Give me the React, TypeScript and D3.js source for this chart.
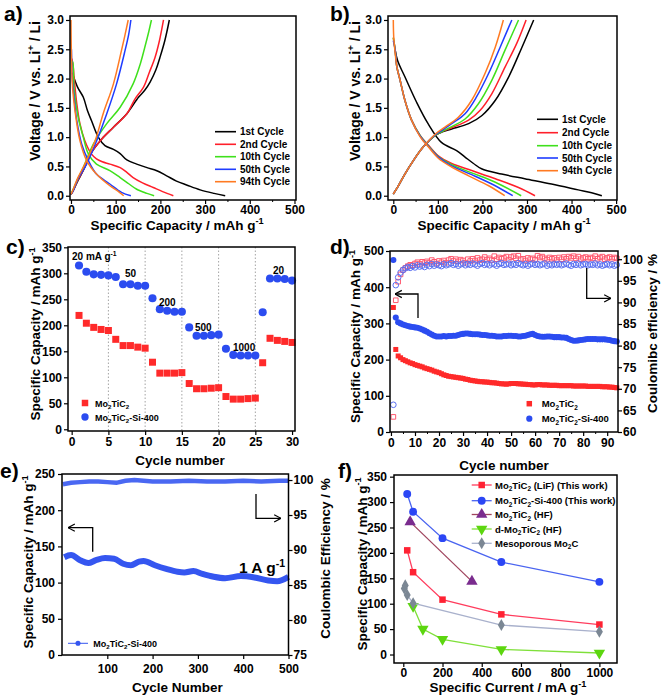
import { useEffect, useRef } from "react";
import * as d3 from "d3";

type Pt = [number, number];
type Seg = [string, string];

const FONT = "'Liberation Sans', Arial, sans-serif";

// ---------- a) Mo2TiC2 voltage profiles ----------
const cycleLabels = ["1st Cycle", "2nd Cycle", "10th Cycle", "50th Cycle", "94th Cycle"];
const cycleColors = ["#000000", "#ff1f2a", "#3fe01c", "#1f3cff", "#ff7a22"];

const aBlackDis: Pt[] = [[3, 2.1], [5, 2.05], [15, 1.85], [27.6, 1.68], [37, 1.45], [46, 1.28], [61, 1.0], [76, 0.855], [95, 0.79], [110, 0.72], [125, 0.61], [147, 0.54], [170, 0.48], [192, 0.427], [214, 0.34], [236, 0.25], [260, 0.18], [289, 0.1], [320, 0.04], [345, 0.0]];
const aBlackCh: Pt[] = [[0, 0.02], [5, 0.085], [15, 0.25], [27.5, 0.43], [46, 0.74], [69, 0.97], [95, 1.17], [125, 1.4], [151, 1.68], [165, 1.8], [177, 1.94], [190, 2.15], [199, 2.36], [210, 2.65], [220, 3.0]];
const aRedDis: Pt[] = [[2, 2.34], [5, 2.2], [7, 2.02], [13, 1.57], [20, 1.23], [31, 0.94], [46, 0.71], [57, 0.63], [70, 0.58], [87, 0.54], [110, 0.48], [125, 0.4], [139, 0.31], [160, 0.22], [184, 0.14], [205, 0.07], [229, 0.0]];
const aRedCh: Pt[] = [[0, 0.02], [5, 0.09], [15, 0.26], [27.5, 0.44], [46, 0.74], [69, 0.97], [95, 1.17], [125, 1.4], [143, 1.65], [162, 1.85], [175, 2.1], [188, 2.36], [198, 2.65], [207, 3.0]];
const aGreenDis: Pt[] = [[2, 2.3], [4, 2.28], [7, 1.82], [16, 1.34], [27.5, 1.0], [39, 0.71], [57, 0.54], [87, 0.43], [110, 0.31], [130, 0.2], [147, 0.11], [170, 0.04], [186, 0.0]];
const aGreenCh: Pt[] = [[0, 0.02], [5, 0.11], [15, 0.28], [27.5, 0.48], [50, 0.88], [80, 1.23], [110, 1.51], [139, 1.91], [155, 2.25], [165, 2.53], [174, 2.8], [180, 3.0]];
const aBlueDis: Pt[] = [[1, 2.5], [3, 2.0], [8, 1.6], [13, 1.28], [24, 0.88], [39, 0.6], [57, 0.37], [87, 0.2], [113, 0.057], [134, 0.0]];
const aBlueCh: Pt[] = [[0, 0.02], [5, 0.085], [15, 0.28], [35, 0.54], [57.5, 0.94], [80, 1.4], [102, 1.91], [121, 2.48], [129, 2.75], [134, 3.0]];
const aOrangeDis: Pt[] = [[0, 3.0], [0.5, 2.6], [2, 2.1], [4, 1.8], [9, 1.45], [20, 0.94], [35, 0.6], [57, 0.37], [87, 0.17], [105, 0.08], [118, 0.0]];
const aOrangeCh: Pt[] = [[0, 0.02], [5, 0.11], [15, 0.3], [31, 0.54], [54, 0.94], [72, 1.4], [95, 1.91], [113, 2.48], [121, 2.75], [128, 3.0]];

// ---------- b) Mo2TiC2-Si-400 voltage profiles ----------
const bBlackDis: Pt[] = [[4, 2.49], [10, 2.3], [26, 2.03], [52, 1.6], [78, 1.23], [108, 0.91], [142, 0.77], [161, 0.66], [180, 0.55], [198, 0.46], [243, 0.37], [295, 0.29], [355, 0.2], [415, 0.1], [445, 0.05], [468, 0.0]];
const bRedDis: Pt[] = [[0, 2.7], [4, 2.5], [8, 2.2], [15, 1.98], [26, 1.63], [41, 1.29], [60, 1.03], [79, 0.86], [101, 0.68], [131, 0.55], [176, 0.43], [229, 0.29], [281, 0.14], [318, 0.0]];
const bGreenDis: Pt[] = [[0, 2.7], [4, 2.5], [8, 2.2], [15, 1.98], [26, 1.63], [41, 1.29], [60, 1.03], [79, 0.85], [101, 0.67], [131, 0.53], [176, 0.39], [229, 0.23], [287, 0.0]];
const bBlueDis: Pt[] = [[0, 2.65], [4, 2.5], [8, 2.2], [15, 1.98], [26, 1.63], [41, 1.29], [60, 1.02], [79, 0.84], [101, 0.66], [131, 0.51], [176, 0.36], [221, 0.2], [268, 0.0]];
const bOrangeDis: Pt[] = [[0, 3.0], [1, 2.7], [4, 2.45], [8, 2.2], [15, 1.98], [26, 1.63], [41, 1.29], [60, 1.01], [79, 0.83], [101, 0.64], [131, 0.49], [169, 0.34], [214, 0.17], [250, 0.0]];
const bBlackCh: Pt[] = [[0, 0.03], [10, 0.15], [26, 0.37], [45, 0.6], [67, 0.83], [94, 1.03], [110, 1.09], [131, 1.14], [169, 1.23], [199, 1.37], [229, 1.63], [259, 2.03], [289, 2.54], [315, 3.0]];
const bRedCh: Pt[] = [[0, 0.03], [10, 0.15], [26, 0.37], [45, 0.6], [67, 0.83], [94, 1.03], [110, 1.1], [131, 1.16], [169, 1.29], [195, 1.46], [221, 1.74], [251, 2.2], [277, 2.6], [298, 3.0]];
const bGreenCh: Pt[] = [[0, 0.03], [10, 0.15], [26, 0.37], [45, 0.6], [67, 0.83], [94, 1.03], [110, 1.1], [131, 1.18], [161, 1.31], [191, 1.57], [221, 1.97], [251, 2.49], [281, 3.0]];
const bBlueCh: Pt[] = [[0, 0.03], [10, 0.15], [26, 0.37], [45, 0.6], [67, 0.83], [94, 1.04], [110, 1.12], [131, 1.23], [161, 1.4], [187, 1.69], [214, 2.09], [240, 2.54], [266, 3.0]];
const bOrangeCh: Pt[] = [[0, 0.03], [10, 0.15], [26, 0.37], [45, 0.6], [67, 0.83], [94, 1.05], [116, 1.17], [146, 1.34], [176, 1.63], [206, 2.09], [229, 2.54], [247, 3.0]];

// ---------- c) rate capability ----------
const cCycles = d3.range(1, 31);
const cMo2TiC2 = [219, 204, 196, 192, 190, 173, 161, 161, 158, 156, 129, 108, 108, 108, 109, 88, 78, 78, 79, 80, 63, 58, 58, 59, 60, 128, 175, 171, 169, 167];
const cSi400 = [315, 303, 298, 297, 296, 293, 279, 279, 276, 276, 252, 231, 228, 226, 226, 196, 180, 180, 181, 182, 155, 143, 142, 142, 142, 225, 290, 290, 289, 286];
const cRateLabels = ["50", "200", "500", "1000", "20"];

// ---------- d) cycling at low rate ----------
const dMo2TiC2Cap = [
  344, 228, 210, 205, 200, 197, 194, 191, 189, 186, 184, 182, 180, 177, 175, 173, 171, 168, 166, 164,
  161, 158, 156, 154, 153, 152, 151, 150, 149, 148, 146, 145, 143, 142, 141, 140, 139, 139, 138, 138,
  137, 136, 136, 135, 134, 133, 133, 132, 133, 134, 134, 134, 133, 133, 132, 132, 131, 131, 130, 130,
  131, 131, 130, 130, 130, 129, 129, 129, 129, 128, 128, 128, 128, 128, 128, 127, 127, 127, 127, 127,
  127, 126, 126, 126, 126, 126, 126, 125, 125, 125, 124, 124, 123, 122,
];
const dSi400Cap = [
  475, 316, 303, 300, 297, 295, 293, 291, 290, 289, 288, 286, 283, 280, 277, 273, 269, 266, 264, 264,
  264, 265, 264, 265, 265, 266, 266, 268, 270, 271, 272, 272, 271, 270, 270, 270, 269, 268, 268, 267,
  266, 266, 265, 264, 264, 264, 265, 265, 266, 266, 265, 265, 264, 264, 265, 266, 268, 270, 271, 268,
  265, 264, 263, 263, 264, 264, 263, 262, 262, 262, 261, 261, 260, 257, 254, 252, 252, 253, 254, 255,
  256, 257, 257, 257, 257, 256, 256, 256, 256, 255, 254, 252, 251, 250,
];
const dMo2TiC2CE = [
  63.5, 90.5, 94.8, 96.5, 97.5, 98.0, 98.4, 98.7, 98.6, 99.0, 99.3, 98.9, 99.4, 99.1, 99.5, 99.2, 99.8, 99.4, 99.0, 99.6,
  99.3, 99.7, 99.2, 99.8, 100.1, 99.6, 100.0, 99.5, 99.9, 99.7, 99.2, 100.0, 99.6, 100.1, 99.7, 100.3, 99.8, 100.0, 100.5, 99.9,
  100.2, 99.8, 100.7, 100.0, 100.4, 100.1, 100.3, 100.6, 99.9, 100.5, 100.7, 100.2, 100.8, 100.0, 100.1, 99.7, 100.3, 100.0, 100.2, 99.9,
  100.8, 100.4, 100.6, 100.2, 99.9, 100.4, 100.1, 100.3, 99.8, 100.4, 100.0, 100.5, 100.1, 100.6, 100.3, 100.7, 100.2, 100.6, 100.0, 100.3,
  100.5, 100.1, 100.4, 100.2, 100.7, 100.1, 100.4, 100.6, 100.0, 100.3, 100.5, 100.1, 100.4, 100.2,
];
const dSi400CE = [
  66.3, 94.0, 95.8, 96.9, 97.5, 97.9, 98.2, 98.0, 98.4, 98.1, 98.6, 98.3, 98.5, 98.2, 98.7, 98.4, 98.9, 98.5, 98.8, 98.6,
  98.4, 98.9, 98.6, 98.8, 99.1, 98.7, 98.9, 98.5, 98.8, 99.0, 98.6, 98.9, 98.7, 99.0, 98.8, 98.5, 98.9, 99.1, 98.7, 98.9,
  98.6, 99.0, 98.8, 98.5, 98.9, 99.1, 98.7, 98.8, 99.0, 98.6, 98.9, 98.7, 99.1, 98.8, 98.6, 98.9, 98.5, 98.8, 99.0, 98.7,
  98.9, 98.6, 98.8, 99.0, 98.5, 98.8, 98.6, 98.9, 98.7, 98.9, 98.6, 98.8, 99.0, 98.7, 98.5, 98.9, 98.7, 99.0, 98.6, 98.8,
  98.9, 98.6, 98.8, 98.7, 99.0, 98.6, 98.8, 98.5, 98.7, 98.9, 98.6, 98.8, 98.5, 98.7,
];

// ---------- e) long cycling at 1 A/g ----------
const eCapCycles = [5, 20, 40, 58, 75, 95, 115, 135, 152, 170, 180, 205, 230, 255, 270, 290, 310, 335, 360, 395, 425, 455, 475, 500];
const eCap = [135, 138, 131, 127, 131, 134, 133, 126, 124, 129, 130, 124, 119, 115, 114, 116, 112, 108, 106, 109, 107, 103, 102, 108];
const eCeCycles = [2, 20, 40, 60, 80, 100, 120, 140, 160, 180, 200, 240, 280, 320, 360, 400, 440, 480, 500];
const eCE = [99.4, 99.6, 99.7, 99.8, 99.8, 99.7, 99.6, 99.9, 100.0, 99.9, 99.8, 99.8, 99.9, 99.8, 99.8, 99.9, 99.8, 99.9, 99.9];

// ---------- f) comparison ----------
const fLiFCurrent = [20, 50, 200, 500, 1000];
const fLiFCap = [205, 162, 108, 79, 59];
const fSiCurrent = [20, 50, 200, 500, 1000];
const fSiCap = [316, 281, 229, 182, 143];
const fHFCurrent = [35, 350];
const fHFCap = [261, 144];
const fDCurrent = [50, 100, 200, 500, 1000];
const fDCap = [95, 50, 30, 10, 3];
const fMesoCurrent = [5, 10, 20, 50, 500, 1000];
const fMesoCap = [130, 136, 117, 101, 58, 45];

const MO: Seg[] = [["Mo", ""], ["2", "sub"], ["TiC", ""], ["2", "sub"]];
const CAP_TITLE: Seg[] = [["Specific Capacity / mAh g", ""], ["-1", "sup"]];

function rich(parent: any, x: number, y: number, segs: Seg[], size: number, opt: any = {}) {
  const t = parent
    .append("text")
    .attr("x", x)
    .attr("y", y)
    .attr("font-family", FONT)
    .attr("font-size", size)
    .attr("font-weight", opt.weight ?? "bold")
    .attr("text-anchor", opt.anchor ?? "start")
    .attr("fill", "#000");
  if (opt.rotate) t.attr("transform", `rotate(-90 ${x} ${y})`);
  let cur = 0;
  segs.forEach(([s, k]) => {
    const target = k === "sub" ? size * 0.28 : k === "sup" ? -size * 0.4 : 0;
    const ts = t.append("tspan").text(s).attr("dy", target - cur);
    if (k) ts.attr("font-size", size * 0.68);
    cur = target;
  });
  return t;
}

function frame(g: any, l: number, r: number, t: number, b: number) {
  g.append("rect")
    .attr("x", l)
    .attr("y", t)
    .attr("width", r - l)
    .attr("height", b - t)
    .attr("fill", "none")
    .attr("stroke", "#000")
    .attr("stroke-width", 1.5);
}

function axis(g: any, gen: any, transform: string) {
  const a = g.append("g").attr("transform", transform).call(gen);
  a.select(".domain").remove();
  a.selectAll("line").attr("stroke", "#000").attr("stroke-width", 1.2);
  a.selectAll("text")
    .attr("font-family", FONT)
    .attr("font-size", 12)
    .attr("font-weight", "bold")
    .attr("fill", "#000");
  return a;
}

function minor(g: any, gen: any, transform: string) {
  const a = g.append("g").attr("transform", transform).call(gen.tickFormat(() => ""));
  a.select(".domain").remove();
  a.selectAll("line").attr("stroke", "#000").attr("stroke-width", 1);
}

function marker(g: any, kind: string, x: number, y: number, s: number, fill: string, stroke?: string) {
  const sym =
    kind === "square" ? d3.symbolSquare : kind === "circle" ? d3.symbolCircle : kind === "diamond" ? d3.symbolDiamond : d3.symbolTriangle;
  const p = g
    .append("path")
    .attr("d", d3.symbol(sym, s * s)())
    .attr("transform", `translate(${x},${y})${kind === "down" ? " rotate(180)" : ""}`)
    .attr("fill", fill);
  if (stroke) p.attr("stroke", stroke).attr("stroke-width", 1);
  return p;
}

function voltagePanel(svg: any, l: number, r: number, xDom: [number, number], dis: Pt[][], ch: Pt[][], legX: number, legY: number[], titleX: number, ylabX: number) {
  const g = svg.append("g");
  const x = d3.scaleLinear().domain(xDom).range([l, r]);
  const y = d3.scaleLinear().domain([-0.073, 3.068]).range([200, 16]);
  const line = d3
    .line<Pt>()
    .x((d) => x(d[0]))
    .y((d) => y(d[1]))
    .curve(d3.curveCatmullRom.alpha(0.5));
  [0, 1, 2, 3, 4].forEach((i) => {
    [dis[i], ch[i]].forEach((s) => {
      g.append("path").attr("d", line(s)).attr("fill", "none").attr("stroke", cycleColors[i]).attr("stroke-width", 1.5);
    });
  });
  frame(g, l, r, 16, 200);
  axis(g, d3.axisBottom(x).tickValues([0, 100, 200, 300, 400, 500]).tickSize(4).tickPadding(1), "translate(0,200)");
  minor(g, d3.axisBottom(x).tickValues([50, 150, 250, 350, 450]).tickSize(2), "translate(0,200)");
  axis(g, d3.axisLeft(y).tickValues([0, 0.5, 1, 1.5, 2, 2.5, 3]).tickFormat(d3.format(".1f")).tickSize(4).tickPadding(2), `translate(${l},0)`);
  cycleLabels.forEach((lab, i) => {
    g.append("line").attr("x1", legX).attr("x2", legX + 21).attr("y1", legY[i]).attr("y2", legY[i]).attr("stroke", cycleColors[i]).attr("stroke-width", 1.6);
    rich(g, legX + 25, legY[i] + 3.6, [[lab, ""]], 10);
  });
  rich(g, titleX, 229.5, CAP_TITLE, 13.5, { anchor: "middle" });
  rich(g, ylabX, 91, [["Voltage / V vs. Li", ""], ["+", "sup"], [" / Li", ""]], 14, { anchor: "middle", rotate: true });
}

const App = () => {
  const svgRef = useRef<SVGSVGElement>(null);

  useEffect(() => {
    if (!svgRef.current) return;
    const svg = d3.select(svgRef.current);
    svg.selectAll("*").remove();

    const defs = svg.append("defs");
    defs
      .append("marker")
      .attr("id", "arr")
      .attr("viewBox", "0 0 10 10")
      .attr("refX", 9.5)
      .attr("refY", 5)
      .attr("markerWidth", 7)
      .attr("markerHeight", 7)
      .attr("orient", "auto")
      .append("path")
      .attr("d", "M2,1 L9.5,5 L2,9")
      .attr("fill", "none")
      .attr("stroke", "#000")
      .attr("stroke-width", 1.3);

    const arrow = (g: any, d: string) =>
      g.append("path").attr("d", d).attr("fill", "none").attr("stroke", "#000").attr("stroke-width", 1.3).attr("marker-end", "url(#arr)");

    // panel letters
    [["a)", 4, 21], ["b)", 330, 21], ["c)", 6, 254], ["d)", 330, 254], ["e)", 0, 478], ["f)", 338, 478]].forEach(([t, x, y]: any) =>
      rich(svg, x, y, [[t, ""]], 21)
    );

    // ---- a & b ----
    voltagePanel(svg, 70, 296, [-2.2, 503.4], [aBlackDis, aRedDis, aGreenDis, aBlueDis, aOrangeDis], [aBlackCh, aRedCh, aGreenCh, aBlueCh, aOrangeCh], 215, [131.7, 144.3, 156.7, 169.3, 181.7], 177, 40);
    voltagePanel(svg, 388, 617, [-11.9, 502], [bBlackDis, bRedDis, bGreenDis, bBlueDis, bOrangeDis], [bBlackCh, bRedCh, bGreenCh, bBlueCh, bOrangeCh], 537, [119.3, 132.7, 145.7, 158, 170.7], 504, 360);

    // ---- c ----
    {
      const g = svg.append("g");
      const x = d3.scaleLinear().domain([-0.5, 30.4]).range([68, 295]);
      const y = d3.scaleLinear().domain([-3.3, 350.6]).range([431, 247]);
      [5, 10, 15, 20, 25].forEach((v) =>
        g.append("line").attr("x1", x(v)).attr("x2", x(v)).attr("y1", 247).attr("y2", 431).attr("stroke", "#9a9a9a").attr("stroke-width", 0.9).attr("stroke-dasharray", "1.5,2")
      );
      cCycles.forEach((c, i) => {
        marker(g, "square", x(c), y(cMo2TiC2[i]), 7, "#ff2a2a");
        marker(g, "circle", x(c), y(cSi400[i]), 7.2, "#2b4cf0");
      });
      frame(g, 68, 295, 247, 431);
      axis(g, d3.axisBottom(x).tickValues([0, 5, 10, 15, 20, 25, 30]).tickSize(4).tickPadding(2), "translate(0,431)");
      axis(g, d3.axisLeft(y).tickValues(d3.range(0, 351, 50)).tickSize(4).tickPadding(2), "translate(68,0)");
      rich(g, 72, 260, [["20 mA g", ""], ["-1", "sup"]], 10);
      [[125, 277], [159, 306], [195, 331], [233, 351], [273, 274]].forEach(([px, py], i) => rich(g, px, py, [[cRateLabels[i], ""]], 10));
      marker(g, "square", 85, 403, 6.5, "#ff2a2a");
      rich(g, 95, 406.5, MO, 9);
      marker(g, "circle", 85, 417, 6.5, "#2b4cf0");
      rich(g, 95, 420.5, [...MO, ["-Si-400", ""]], 9);
      rich(g, 180, 465, [["Cycle number", ""]], 13.5, { anchor: "middle" });
      rich(g, 40, 334, CAP_TITLE, 13.5, { anchor: "middle", rotate: true });
    }

    // ---- d ----
    {
      const g = svg.append("g");
      const x = d3.scaleLinear().domain([-0.4, 94.5]).range([390, 618]);
      const y = d3.scaleLinear().domain([0, 500]).range([432, 251]);
      const yr = d3.scaleLinear().domain([60, 101.9]).range([432, 251]);
      dMo2TiC2CE.forEach((v, i) => marker(g, "square", x(i + 1), yr(v), 4.6, "none", "#ff5a70"));
      dSi400CE.forEach((v, i) => marker(g, "circle", x(i + 1), yr(v), 5, "none", "#5a70f2"));
      dMo2TiC2Cap.forEach((v, i) => marker(g, "square", x(i + 1), y(v), 5, "#ff2a2a"));
      dSi400Cap.forEach((v, i) => marker(g, "circle", x(i + 1), y(v), 5.4, "#2b4cf0"));
      frame(g, 390, 618, 251, 432);
      axis(g, d3.axisBottom(x).tickValues(d3.range(0, 91, 10)).tickSize(4).tickPadding(2), "translate(0,432)");
      minor(g, d3.axisBottom(x).tickValues(d3.range(5, 95, 10)).tickSize(2), "translate(0,432)");
      axis(g, d3.axisLeft(y).tickValues(d3.range(0, 501, 100)).tickSize(4).tickPadding(2), "translate(390,0)");
      axis(g, d3.axisRight(yr).tickValues(d3.range(60, 101, 5)).tickSize(4).tickPadding(1), "translate(618,0)");
      arrow(g, "M418,318 V294 H395");
      arrow(g, "M586.7,268 V298.3 H611");
      marker(g, "square", 529.3, 403.7, 5.5, "#ff2a2a");
      rich(g, 541.7, 407.2, MO, 9.5);
      marker(g, "circle", 529.3, 418.7, 5.5, "#2b4cf0");
      rich(g, 541.7, 422.2, [...MO, ["-Si-400", ""]], 9.5);
      rich(g, 504, 470, [["Cycle number", ""]], 13.5, { anchor: "middle" });
      rich(g, 360, 336.5, CAP_TITLE, 13.5, { anchor: "middle", rotate: true });
      rich(g, 656.7, 333.5, [["Coulomibc efficiency / %", ""]], 13.5, { anchor: "middle", rotate: true });
    }

    // ---- e ----
    {
      const g = svg.append("g");
      const x = d3.scaleLinear().domain([0, 500]).range([62, 288.5]);
      const y = d3.scaleLinear().domain([0, 250]).range([655, 474]);
      const yr = d3.scaleLinear().domain([75, 100.86]).range([655, 474]);
      const capLine = d3
        .line<number>()
        .x((_, i) => x(eCapCycles[i]))
        .y((d) => y(d))
        .curve(d3.curveMonotoneX);
      const ceLine = d3
        .line<number>()
        .x((_, i) => x(eCeCycles[i]))
        .y((d) => yr(d));
      g.append("path").attr("d", ceLine(eCE)).attr("fill", "none").attr("stroke", "#4a68f2").attr("stroke-width", 4.5);
      g.append("path").attr("d", capLine(eCap)).attr("fill", "none").attr("stroke", "#3556f0").attr("stroke-width", 6);
      frame(g, 62, 288.5, 474, 655);
      axis(g, d3.axisBottom(x).tickValues([100, 200, 300, 400, 500]).tickSize(4).tickPadding(5), "translate(0,655)");
      axis(g, d3.axisLeft(y).tickValues(d3.range(0, 251, 50)).tickSize(4).tickPadding(3), "translate(62,0)");
      axis(g, d3.axisRight(yr).tickValues(d3.range(75, 101, 5)).tickSize(4).tickPadding(1), "translate(288.5,0)");
      arrow(g, "M92.7,551.7 V527.7 H68");
      arrow(g, "M256,494 V518.3 H281");
      rich(g, 239, 573, [["1 A g", ""], ["-1", "sup"]], 15.5);
      g.append("line").attr("x1", 68).attr("x2", 88).attr("y1", 643.3).attr("y2", 643.3).attr("stroke", "#3556f0").attr("stroke-width", 1);
      marker(g, "circle", 78, 643.3, 4.5, "#3556f0");
      rich(g, 93.3, 646.5, [...MO, ["-Si-400", ""]], 9);
      rich(g, 177.5, 692, [["Cycle Number", ""]], 13.5, { anchor: "middle" });
      rich(g, 33, 562, CAP_TITLE, 13.5, { anchor: "middle", rotate: true });
      rich(g, 330, 558.5, [["Coulombic Efficiency / %", ""]], 13.5, { anchor: "middle", rotate: true });
    }

    // ---- f ----
    {
      const g = svg.append("g");
      const x = d3.scaleLinear().domain([-47.4, 1089.8]).range([394, 617]);
      const y = d3.scaleLinear().domain([-16.7, 353.3]).range([663, 475]);
      const series = [
        { xs: fLiFCurrent, ys: fLiFCap, line: "#ff3d5e", fill: "#ff2233", kind: "square", size: 6.5, label: [...MO, [" (LiF) (This work)", ""]] as Seg[] },
        { xs: fSiCurrent, ys: fSiCap, line: "#4a64f0", fill: "#2b46f5", kind: "circle", size: 7, label: [...MO, ["-Si-400 (This work)", ""]] as Seg[] },
        { xs: fHFCurrent, ys: fHFCap, line: "#a0455e", fill: "#7a2c8e", kind: "triangle", size: 7.5, label: [...MO, [" (HF)", ""]] as Seg[] },
        { xs: fDCurrent, ys: fDCap, line: "#7fe03a", fill: "#5cd60f", kind: "down", size: 7.5, label: [["d-", ""], ...MO, [" (HF)", ""]] as Seg[] },
        { xs: fMesoCurrent, ys: fMesoCap, line: "#a9b1cc", fill: "#7b8794", kind: "diamond", size: 6.5, label: [["Mesoporous Mo", ""], ["2", "sub"], ["C", ""]] as Seg[] },
      ];
      const legY = [485, 500.7, 514.5, 529, 543.3];
      series.forEach((s, si) => {
        const line = d3
          .line<number>()
          .x((_, i) => x(s.xs[i]))
          .y((d) => y(d));
        g.append("path").attr("d", line(s.ys)).attr("fill", "none").attr("stroke", s.line).attr("stroke-width", 1.3);
        s.ys.forEach((v, i) => marker(g, s.kind, x(s.xs[i]), y(v), s.size, s.fill));
        g.append("line").attr("x1", 471.7).attr("x2", 491.7).attr("y1", legY[si]).attr("y2", legY[si]).attr("stroke", s.line).attr("stroke-width", 1.3);
        marker(g, s.kind, 481.7, legY[si], s.size, s.fill);
        rich(g, 495, legY[si] + 3.5, s.label, 9.5);
      });
      frame(g, 394, 617, 475, 663);
      axis(g, d3.axisBottom(x).tickValues(d3.range(0, 1001, 200)).tickFormat(d3.format("d")).tickSize(4).tickPadding(1), "translate(0,663)");
      axis(g, d3.axisLeft(y).tickValues(d3.range(0, 351, 50)).tickSize(4).tickPadding(3), "translate(394,0)");
      rich(g, 508, 692, [["Specific Current / mA g", ""], ["-1", "sup"]], 13.5, { anchor: "middle" });
      rich(g, 366.7, 564, CAP_TITLE, 13.5, { anchor: "middle", rotate: true });
    }
  }, []);

  return <svg ref={svgRef} width={661} height={697} style={{ position: "absolute", left: 0, top: 0, background: "#fff" }} />;
};

export default App;
